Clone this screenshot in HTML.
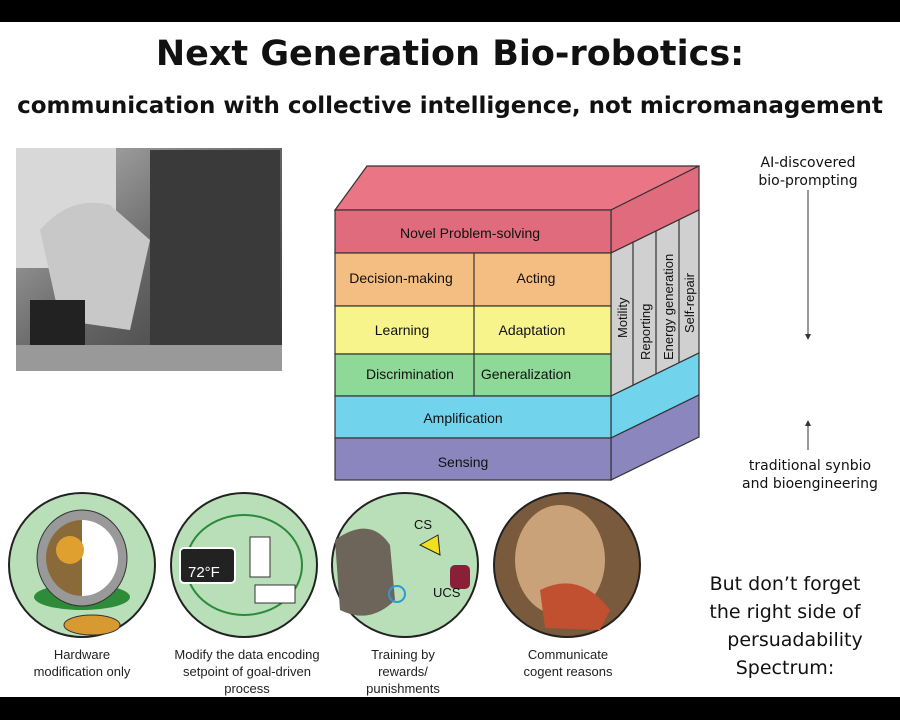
<!DOCTYPE html>
<html><head><style>
body{margin:0;width:900px;height:720px;background:#fff;position:relative;overflow:hidden;font-family:"Liberation Sans",sans-serif}
.bar{position:absolute;left:0;width:900px;background:#000}
.t{position:absolute;white-space:nowrap}
.cap{position:absolute;text-align:center;font-size:13px;color:#222;line-height:17px;width:170px}
.hw{font-family:"DejaVu Sans","Liberation Sans",sans-serif;color:#111}
</style></head><body>
<div class="bar" style="top:0;height:22px"></div>
<div class="bar" style="top:697px;height:23px"></div>
<div class="t hw" style="left:0;width:900px;text-align:center;top:34px;font-size:35px;font-weight:bold">Next Generation Bio-robotics:</div>
<div class="t hw" style="left:0;width:900px;text-align:center;top:93px;font-size:23px;font-weight:bold">communication with collective intelligence, not micromanagement</div>

<svg width="900" height="720" style="position:absolute;left:0;top:0" font-family="Liberation Sans, sans-serif">
<defs>
<linearGradient id="ph" x1="0" y1="0" x2="1" y2="1"><stop offset="0" stop-color="#bbb"/><stop offset=".5" stop-color="#666"/><stop offset="1" stop-color="#333"/></linearGradient>
</defs>
<rect x="16" y="148" width="266" height="223" fill="url(#ph)"/>
<rect x="16" y="148" width="100" height="120" fill="#d8d8d8"/>
<rect x="150" y="150" width="130" height="200" fill="#3a3a3a"/>
<path d="M40 230 Q70 195 110 205 L150 240 L130 330 L60 320 Z" fill="#c8c8c8"/>
<rect x="30" y="300" width="55" height="50" fill="#222"/>
<rect x="16" y="345" width="266" height="26" fill="#999"/>
<g stroke="#333" stroke-width="1.2">
<polygon points="335,210 611,210 699,166 367,166" fill="#ea7584"/>
<polygon points="611,210 699,166 699,210 611,253" fill="#e06b7c"/>
<polygon points="611,253 699,210 699,353 611,396" fill="#d0d0d0"/>
<polygon points="611,396 699,353 699,395 611,438" fill="#72d3ec"/>
<polygon points="611,438 699,395 699,437 611,480" fill="#8c86bf"/>
<line x1="633" y1="242" x2="633" y2="385"/><line x1="656" y1="231" x2="656" y2="374"/><line x1="679" y1="220" x2="679" y2="363"/>
<rect x="335" y="210" width="276" height="43" fill="#e06b7c"/>
<rect x="335" y="253" width="276" height="53" fill="#f4bd82"/>
<rect x="335" y="306" width="276" height="48" fill="#f7f48c"/>
<rect x="335" y="354" width="276" height="42" fill="#8ed898"/>
<rect x="335" y="396" width="276" height="42" fill="#72d3ec"/>
<rect x="335" y="438" width="276" height="42" fill="#8c86bf"/>
<line x1="474" y1="253" x2="474" y2="396"/>
</g>
<g font-size="14" fill="#111" text-anchor="middle">
<text x="470" y="238">Novel Problem-solving</text>
<text x="401" y="283">Decision-making</text><text x="536" y="283">Acting</text>
<text x="402" y="335">Learning</text><text x="532" y="335">Adaptation</text>
<text x="410" y="379">Discrimination</text><text x="526" y="379">Generalization</text>
<text x="463" y="423">Amplification</text>
<text x="463" y="467">Sensing</text>
</g>
<g font-size="13" fill="#111">
<text transform="translate(627,338) rotate(-90)">Motility</text>
<text transform="translate(650,360) rotate(-90)">Reporting</text>
<text transform="translate(673,360) rotate(-90)">Energy generation</text>
<text transform="translate(694,333) rotate(-90)">Self-repair</text>
</g>
<line x1="808" y1="190" x2="808" y2="336" stroke="#333" stroke-width="1"/>
<path d="M805 334 L808 340 L811 334 Z" fill="#333"/>
<line x1="808" y1="424" x2="808" y2="450" stroke="#333" stroke-width="1"/>
<path d="M805 426 L808 420 L811 426 Z" fill="#333"/>
<g font-family="DejaVu Sans, sans-serif" font-size="14" fill="#111" text-anchor="middle">
<text x="808" y="167">AI-discovered</text><text x="808" y="185">bio-prompting</text>
<text x="810" y="470">traditional synbio</text><text x="810" y="488">and bioengineering</text>
</g>
<g font-family="DejaVu Sans, sans-serif" font-size="19" fill="#111" text-anchor="middle">
<text x="785" y="590">But don’t forget</text><text x="785" y="618">the right side of</text>
<text x="795" y="646">persuadability</text><text x="785" y="674">Spectrum:</text>
</g>
<g stroke="#222" stroke-width="2">
<ellipse cx="82" cy="565" rx="73" ry="72" fill="#b8dfb8"/>
<ellipse cx="244" cy="565" rx="73" ry="72" fill="#b8dfb8"/>
<ellipse cx="405" cy="565" rx="73" ry="72" fill="#b8dfb8"/>
<ellipse cx="567" cy="565" rx="73" ry="72" fill="#7a5a3c"/>
</g>
<ellipse cx="82" cy="597" rx="48" ry="13" fill="#2e8b3a"/>
<ellipse cx="82" cy="558" rx="45" ry="48" fill="#999" stroke="#333"/>
<path d="M82 520 A36 38 0 0 0 82 596 Z" fill="#8b6a3a"/>
<path d="M82 520 A36 38 0 0 1 82 596 Z" fill="#fff"/>
<ellipse cx="92" cy="625" rx="28" ry="10" fill="#d89a30" stroke="#333"/>
<circle cx="70" cy="550" r="14" fill="#e0a030"/>
<ellipse cx="244" cy="565" rx="58" ry="50" fill="none" stroke="#2a8a3a" stroke-width="2"/>
<rect x="180" y="548" width="55" height="35" rx="4" fill="#222" stroke="#fff" stroke-width="2"/>
<text x="188" y="577" fill="#fff" font-size="15">72°F</text>
<rect x="250" y="537" width="20" height="40" fill="#fff" stroke="#333"/>
<rect x="255" y="585" width="40" height="18" fill="#fff" stroke="#333"/>
<path d="M335 540 Q370 515 390 545 L395 600 Q370 625 340 610 Z" fill="#6d655a"/>
<polygon points="420,545 438,535 440,555" fill="#f0e020" stroke="#222"/>
<rect x="450" y="565" width="20" height="24" rx="5" fill="#8a1f3a"/>
<text x="414" y="529" font-size="13" fill="#111">CS</text><text x="433" y="597" font-size="13" fill="#111">UCS</text>
<circle cx="397" cy="594" r="8" fill="none" stroke="#2a9ad8" stroke-width="2"/>
<ellipse cx="560" cy="560" rx="45" ry="55" fill="#c9a27a"/>
<path d="M540 590 Q580 570 610 610 L600 630 L545 628 Z" fill="#c05030"/>
</svg>
<div class="cap" style="left:-3px;top:646px">Hardware<br>modification only</div>
<div class="cap" style="left:162px;top:646px">Modify the data encoding<br>setpoint of goal-driven<br>process</div>
<div class="cap" style="left:318px;top:646px">Training by<br>rewards/<br>punishments</div>
<div class="cap" style="left:483px;top:646px">Communicate<br>cogent reasons</div>
</body></html>
